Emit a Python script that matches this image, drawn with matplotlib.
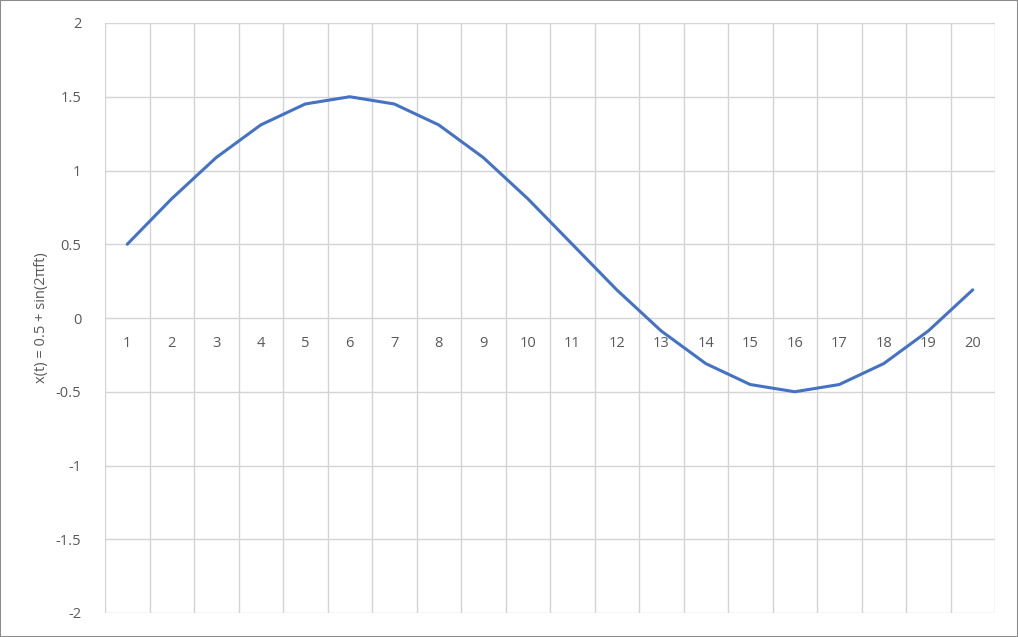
import matplotlib
matplotlib.use("Agg")
import matplotlib.pyplot as plt
from matplotlib.patches import Rectangle

plt.rcParams['font.family'] = ['Open Sans', 'DejaVu Sans']

categories = list(range(1, 21))
values = [0.5, 0.809, 1.088, 1.309, 1.451, 1.5, 1.451, 1.309, 1.088, 0.809,
          0.5, 0.191, -0.088, -0.309, -0.451, -0.5, -0.451, -0.309, -0.088, 0.191]
y_ticks = [-2, -1.5, -1, -0.5, 0, 0.5, 1, 1.5, 2]
y_tick_labels = ['-2', '-1.5', '-1', '-0.5', '0', '0.5', '1', '1.5', '2']
y_label = 'x(t) = 0.5 + sin(2πft)'

fig = plt.figure(figsize=(10.18, 6.37), dpi=100)
ax = fig.add_axes([105/1018, 1-613/637, 890/1018, 590/637])

grid_c = '#D4D4D4'
text_c = '#595959'

ax.plot(categories, values, color='#4472C4', lw=2.2, solid_capstyle='round', zorder=3)

ax.set_xlim(0.5, 20.5)
ax.set_ylim(-2, 2)
ax.set_yticks(y_ticks)
ax.set_yticklabels(y_tick_labels)
ax.set_xticks(categories)
ax.set_xticklabels([str(c) for c in categories])

ax.grid(False)
for y in y_ticks:
    ax.axhline(y, color=grid_c, lw=1.0, zorder=1)
for x in [c - 0.5 for c in categories] + [20.5]:
    ax.axvline(x, color=grid_c, lw=1.0, zorder=1)

for s in ['top', 'right', 'left']:
    ax.spines[s].set_visible(False)
ax.spines['bottom'].set_position(('data', 0))
ax.spines['bottom'].set_visible(False)

ax.tick_params(axis='x', which='both', length=0, pad=13, labelsize=10.5, labelcolor=text_c)
ax.tick_params(axis='y', which='both', length=0, pad=17, labelsize=10.5, labelcolor=text_c)

fig.text(42/1018, 1 - 318/637, y_label, rotation=90, ha='center', va='center',
         fontsize=10.5, color=text_c)

fig.patches.append(Rectangle((0, 0), 1, 1, transform=fig.transFigure, fill=False,
                             edgecolor='#8C8C8C', lw=1.5))

fig.savefig('out.png', dpi=100)
